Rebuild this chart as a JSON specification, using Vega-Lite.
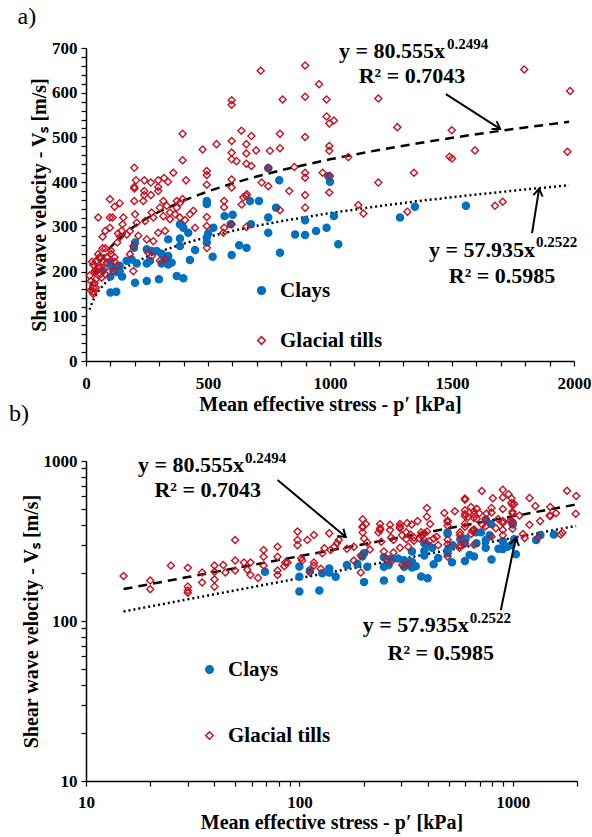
{
  "$schema": "https://vega.github.io/schema/vega-lite/v6.json",
  "background": "white",
  "padding": {"left": 9, "top": 4, "right": 0, "bottom": 2},
  "spacing": -12,
  "config": {
    "view": {"stroke": null},
    "font": "Liberation Serif",
    "axis": {
      "domainColor": "black", "domainWidth": 1.5, "tickColor": "black", "tickWidth": 1.2, "tickSize": 5,
      "labelFont": "Liberation Serif", "labelFontWeight": "bold", "labelFontSize": 17, "labelColor": "black",
      "titleFont": "Liberation Serif", "titleFontWeight": "bold", "titleFontSize": 20, "titleColor": "black",
      "grid": false, "labelOverlap": false, "labelFlush": false
    },
    "legend": {"labelFont": "Liberation Serif", "labelFontWeight": "bold", "labelFontSize": 21, "labelColor": "black"},
    "title": {"font": "Liberation Serif", "fontSize": 24, "fontWeight": "normal", "anchor": "start", "frame": "bounds", "color": "black"}
  },
  "datasets": {
    "pts": [
      {"type":"Clays","p":69,"vs":203},{"type":"Clays","p":100,"vs":219},{"type":"Clays","p":100,"vs":189},{"type":"Clays","p":100,"vs":153},{"type":"Clays","p":124,"vs":155},{"type":"Clays","p":128,"vs":199},{"type":"Clays","p":138,"vs":213},{"type":"Clays","p":148,"vs":189},{"type":"Clays","p":138,"vs":201},{"type":"Clays","p":112,"vs":207},
      {"type":"Clays","p":167,"vs":224},{"type":"Clays","p":187,"vs":227},{"type":"Clays","p":197,"vs":253},{"type":"Clays","p":201,"vs":265},{"type":"Clays","p":201,"vs":175},{"type":"Clays","p":208,"vs":218},{"type":"Clays","p":249,"vs":250},{"type":"Clays","p":249,"vs":218},{"type":"Clays","p":249,"vs":179},{"type":"Clays","p":262,"vs":224},{"type":"Clays","p":269,"vs":246},{"type":"Clays","p":290,"vs":246},{"type":"Clays","p":299,"vs":183},{"type":"Clays","p":310,"vs":240},{"type":"Clays","p":310,"vs":218},{"type":"Clays","p":324,"vs":231},{"type":"Clays","p":337,"vs":235},{"type":"Clays","p":337,"vs":272},{"type":"Clays","p":337,"vs":216},{"type":"Clays","p":351,"vs":220},{"type":"Clays","p":372,"vs":190},{"type":"Clays","p":385,"vs":306},{"type":"Clays","p":385,"vs":274},{"type":"Clays","p":385,"vs":257},{"type":"Clays","p":399,"vs":298},{"type":"Clays","p":399,"vs":185},{"type":"Clays","p":419,"vs":287},{"type":"Clays","p":426,"vs":226},{"type":"Clays","p":447,"vs":248},{"type":"Clays","p":495,"vs":358},{"type":"Clays","p":495,"vs":351},{"type":"Clays","p":495,"vs":276},{"type":"Clays","p":495,"vs":265},{"type":"Clays","p":501,"vs":285},{"type":"Clays","p":519,"vs":233},{"type":"Clays","p":522,"vs":298},{"type":"Clays","p":568,"vs":324},{"type":"Clays","p":593,"vs":306},{"type":"Clays","p":597,"vs":237},{"type":"Clays","p":601,"vs":327},{"type":"Clays","p":628,"vs":259},{"type":"Clays","p":658,"vs":253},{"type":"Clays","p":672,"vs":358},{"type":"Clays","p":676,"vs":306},{"type":"Clays","p":709,"vs":358},{"type":"Clays","p":747,"vs":431},{"type":"Clays","p":747,"vs":321},{"type":"Clays","p":747,"vs":287},{"type":"Clays","p":779,"vs":343},{"type":"Clays","p":792,"vs":404},{"type":"Clays","p":795,"vs":242},{"type":"Clays","p":857,"vs":283},{"type":"Clays","p":898,"vs":315},{"type":"Clays","p":898,"vs":282},{"type":"Clays","p":943,"vs":291},{"type":"Clays","p":986,"vs":298},{"type":"Clays","p":993,"vs":414},{"type":"Clays","p":1000,"vs":401},{"type":"Clays","p":1016,"vs":324},{"type":"Clays","p":1034,"vs":261},{"type":"Clays","p":1287,"vs":321},{"type":"Clays","p":1348,"vs":345},{"type":"Clays","p":1557,"vs":347},
      {"type":"Glacial tills","p":15,"vs":191},{"type":"Glacial tills","p":20,"vs":179},{"type":"Glacial tills","p":20,"vs":158},{"type":"Glacial tills","p":25,"vs":222},{"type":"Glacial tills","p":30,"vs":215},{"type":"Glacial tills","p":30,"vs":164},{"type":"Glacial tills","p":30,"vs":155},{"type":"Glacial tills","p":30,"vs":150},{"type":"Glacial tills","p":35,"vs":201},{"type":"Glacial tills","p":35,"vs":174},{"type":"Glacial tills","p":40,"vs":222},{"type":"Glacial tills","p":40,"vs":203},{"type":"Glacial tills","p":40,"vs":182},{"type":"Glacial tills","p":40,"vs":164},{"type":"Glacial tills","p":44,"vs":224},{"type":"Glacial tills","p":45,"vs":201},{"type":"Glacial tills","p":50,"vs":321},{"type":"Glacial tills","p":50,"vs":239},{"type":"Glacial tills","p":50,"vs":207},{"type":"Glacial tills","p":55,"vs":232},{"type":"Glacial tills","p":57,"vs":209},{"type":"Glacial tills","p":59,"vs":232},{"type":"Glacial tills","p":59,"vs":194},{"type":"Glacial tills","p":64,"vs":186},{"type":"Glacial tills","p":68,"vs":278},{"type":"Glacial tills","p":68,"vs":252},{"type":"Glacial tills","p":68,"vs":222},{"type":"Glacial tills","p":79,"vs":291},{"type":"Glacial tills","p":79,"vs":252},{"type":"Glacial tills","p":79,"vs":207},{"type":"Glacial tills","p":79,"vs":194},{"type":"Glacial tills","p":85,"vs":220},{"type":"Glacial tills","p":86,"vs":232},{"type":"Glacial tills","p":88,"vs":232},{"type":"Glacial tills","p":98,"vs":362},{"type":"Glacial tills","p":98,"vs":321},{"type":"Glacial tills","p":98,"vs":298},{"type":"Glacial tills","p":102,"vs":247},{"type":"Glacial tills","p":103,"vs":239},{"type":"Glacial tills","p":109,"vs":321},{"type":"Glacial tills","p":112,"vs":201},{"type":"Glacial tills","p":117,"vs":345},{"type":"Glacial tills","p":117,"vs":232},{"type":"Glacial tills","p":117,"vs":222},{"type":"Glacial tills","p":126,"vs":212},{"type":"Glacial tills","p":128,"vs":265},{"type":"Glacial tills","p":131,"vs":285},{"type":"Glacial tills","p":138,"vs":353},{"type":"Glacial tills","p":140,"vs":278},{"type":"Glacial tills","p":146,"vs":291},
      {"type":"Glacial tills","p":150,"vs":306},{"type":"Glacial tills","p":153,"vs":321},{"type":"Glacial tills","p":167,"vs":283},{"type":"Glacial tills","p":180,"vs":291},{"type":"Glacial tills","p":180,"vs":239},{"type":"Glacial tills","p":194,"vs":257},{"type":"Glacial tills","p":194,"vs":201},{"type":"Glacial tills","p":198,"vs":432},{"type":"Glacial tills","p":198,"vs":389},{"type":"Glacial tills","p":198,"vs":386},{"type":"Glacial tills","p":198,"vs":358},{"type":"Glacial tills","p":201,"vs":328},{"type":"Glacial tills","p":205,"vs":404},{"type":"Glacial tills","p":208,"vs":309},{"type":"Glacial tills","p":214,"vs":280},{"type":"Glacial tills","p":235,"vs":358},{"type":"Glacial tills","p":239,"vs":404},{"type":"Glacial tills","p":239,"vs":380},{"type":"Glacial tills","p":239,"vs":371},{"type":"Glacial tills","p":242,"vs":313},{"type":"Glacial tills","p":249,"vs":272},{"type":"Glacial tills","p":255,"vs":242},{"type":"Glacial tills","p":266,"vs":399},{"type":"Glacial tills","p":266,"vs":371},{"type":"Glacial tills","p":269,"vs":332},{"type":"Glacial tills","p":269,"vs":235},{"type":"Glacial tills","p":276,"vs":321},{"type":"Glacial tills","p":276,"vs":268},{"type":"Glacial tills","p":296,"vs":404},{"type":"Glacial tills","p":296,"vs":389},{"type":"Glacial tills","p":296,"vs":380},{"type":"Glacial tills","p":296,"vs":287},{"type":"Glacial tills","p":303,"vs":343},{"type":"Glacial tills","p":303,"vs":224},{"type":"Glacial tills","p":317,"vs":358},{"type":"Glacial tills","p":317,"vs":324},{"type":"Glacial tills","p":320,"vs":409},{"type":"Glacial tills","p":324,"vs":291},{"type":"Glacial tills","p":324,"vs":228},{"type":"Glacial tills","p":331,"vs":347},{"type":"Glacial tills","p":336,"vs":401},{"type":"Glacial tills","p":344,"vs":332},{"type":"Glacial tills","p":344,"vs":317},{"type":"Glacial tills","p":358,"vs":421},{"type":"Glacial tills","p":365,"vs":328},{"type":"Glacial tills","p":372,"vs":358},{"type":"Glacial tills","p":372,"vs":343},{"type":"Glacial tills","p":385,"vs":354},{"type":"Glacial tills","p":385,"vs":321},{"type":"Glacial tills","p":396,"vs":508},{"type":"Glacial tills","p":396,"vs":449},{"type":"Glacial tills","p":396,"vs":362},{"type":"Glacial tills","p":406,"vs":315},{"type":"Glacial tills","p":410,"vs":404},{"type":"Glacial tills","p":426,"vs":328},{"type":"Glacial tills","p":440,"vs":336},{"type":"Glacial tills","p":447,"vs":298},{"type":"Glacial tills","p":478,"vs":473},{"type":"Glacial tills","p":495,"vs":425},{"type":"Glacial tills","p":495,"vs":416},{"type":"Glacial tills","p":495,"vs":394},{"type":"Glacial tills","p":495,"vs":322},{"type":"Glacial tills","p":495,"vs":302},{"type":"Glacial tills","p":495,"vs":253},{"type":"Glacial tills","p":535,"vs":485},{"type":"Glacial tills","p":563,"vs":287},{"type":"Glacial tills","p":566,"vs":358},{"type":"Glacial tills","p":566,"vs":344},{"type":"Glacial tills","p":566,"vs":298},{"type":"Glacial tills","p":597,"vs":583},{"type":"Glacial tills","p":597,"vs":573},{"type":"Glacial tills","p":597,"vs":492},{"type":"Glacial tills","p":597,"vs":466},{"type":"Glacial tills","p":597,"vs":451},{"type":"Glacial tills","p":597,"vs":406},{"type":"Glacial tills","p":597,"vs":388},{"type":"Glacial tills","p":597,"vs":306},{"type":"Glacial tills","p":617,"vs":447},{"type":"Glacial tills","p":637,"vs":515},{"type":"Glacial tills","p":638,"vs":350},{"type":"Glacial tills","p":645,"vs":366},{"type":"Glacial tills","p":656,"vs":369},{"type":"Glacial tills","p":657,"vs":485},{"type":"Glacial tills","p":657,"vs":464},{"type":"Glacial tills","p":657,"vs":441},{"type":"Glacial tills","p":658,"vs":300},{"type":"Glacial tills","p":659,"vs":373},{"type":"Glacial tills","p":678,"vs":503},{"type":"Glacial tills","p":678,"vs":436},{"type":"Glacial tills","p":697,"vs":471},{"type":"Glacial tills","p":716,"vs":649},{"type":"Glacial tills","p":720,"vs":399},{"type":"Glacial tills","p":747,"vs":432},{"type":"Glacial tills","p":747,"vs":391},{"type":"Glacial tills","p":754,"vs":470},{"type":"Glacial tills","p":795,"vs":508},{"type":"Glacial tills","p":795,"vs":476},{"type":"Glacial tills","p":795,"vs":337},{"type":"Glacial tills","p":806,"vs":585},{"type":"Glacial tills","p":833,"vs":380},{"type":"Glacial tills","p":854,"vs":434},{"type":"Glacial tills","p":898,"vs":661},{"type":"Glacial tills","p":898,"vs":591},{"type":"Glacial tills","p":898,"vs":501},{"type":"Glacial tills","p":898,"vs":421},{"type":"Glacial tills","p":898,"vs":410},{"type":"Glacial tills","p":898,"vs":371},{"type":"Glacial tills","p":898,"vs":343},{"type":"Glacial tills","p":955,"vs":619},{"type":"Glacial tills","p":970,"vs":421},{"type":"Glacial tills","p":986,"vs":585},{"type":"Glacial tills","p":986,"vs":547},{"type":"Glacial tills","p":997,"vs":531},{"type":"Glacial tills","p":997,"vs":481},{"type":"Glacial tills","p":997,"vs":470},{"type":"Glacial tills","p":997,"vs":377},{"type":"Glacial tills","p":1000,"vs":414},{"type":"Glacial tills","p":1016,"vs":538},{"type":"Glacial tills","p":1075,"vs":456},{"type":"Glacial tills","p":1116,"vs":349},{"type":"Glacial tills","p":1137,"vs":330},{"type":"Glacial tills","p":1198,"vs":587},{"type":"Glacial tills","p":1198,"vs":399},{"type":"Glacial tills","p":1276,"vs":523},{"type":"Glacial tills","p":1317,"vs":334},{"type":"Glacial tills","p":1344,"vs":421},{"type":"Glacial tills","p":1490,"vs":457},{"type":"Glacial tills","p":1500,"vs":453},{"type":"Glacial tills","p":1499,"vs":516},{"type":"Glacial tills","p":1594,"vs":471},{"type":"Glacial tills","p":1676,"vs":347},{"type":"Glacial tills","p":1708,"vs":356},{"type":"Glacial tills","p":1796,"vs":652},{"type":"Glacial tills","p":1973,"vs":468},{"type":"Glacial tills","p":1984,"vs":604}
    ],
    "fits": [
      {"fit":"Glacial tills","p":15,"vs":158.27},{"fit":"Glacial tills","p":20,"vs":170.05},{"fit":"Glacial tills","p":30,"vs":188.14},{"fit":"Glacial tills","p":40,"vs":202.14},{"fit":"Glacial tills","p":50,"vs":213.71},{"fit":"Glacial tills","p":60,"vs":223.65},{"fit":"Glacial tills","p":80,"vs":240.28},{"fit":"Glacial tills","p":100,"vs":254.03},{"fit":"Glacial tills","p":130,"vs":271.21},{"fit":"Glacial tills","p":160,"vs":285.63},{"fit":"Glacial tills","p":200,"vs":301.97},{"fit":"Glacial tills","p":250,"vs":319.25},{"fit":"Glacial tills","p":300,"vs":334.10},{"fit":"Glacial tills","p":400,"vs":358.96},{"fit":"Glacial tills","p":500,"vs":379.50},{"fit":"Glacial tills","p":600,"vs":397.15},{"fit":"Glacial tills","p":700,"vs":412.72},{"fit":"Glacial tills","p":800,"vs":426.70},{"fit":"Glacial tills","p":1000,"vs":451.12},{"fit":"Glacial tills","p":1200,"vs":472.10},{"fit":"Glacial tills","p":1400,"vs":490.60},{"fit":"Glacial tills","p":1600,"vs":507.22},{"fit":"Glacial tills","p":1800,"vs":522.34},{"fit":"Glacial tills","p":1980,"vs":534.91},
      {"fit":"Clays","p":15,"vs":114.70},{"fit":"Clays","p":20,"vs":123.33},{"fit":"Clays","p":30,"vs":136.61},{"fit":"Clays","p":40,"vs":146.89},{"fit":"Clays","p":50,"vs":155.39},{"fit":"Clays","p":60,"vs":162.70},{"fit":"Clays","p":80,"vs":174.94},{"fit":"Clays","p":100,"vs":185.07},{"fit":"Clays","p":130,"vs":197.74},{"fit":"Clays","p":160,"vs":208.36},{"fit":"Clays","p":200,"vs":220.43},{"fit":"Clays","p":250,"vs":233.18},{"fit":"Clays","p":300,"vs":244.16},{"fit":"Clays","p":400,"vs":262.53},{"fit":"Clays","p":500,"vs":277.73},{"fit":"Clays","p":600,"vs":290.79},{"fit":"Clays","p":700,"vs":302.32},{"fit":"Clays","p":800,"vs":312.68},{"fit":"Clays","p":1000,"vs":330.78},{"fit":"Clays","p":1200,"vs":346.34},{"fit":"Clays","p":1400,"vs":360.07},{"fit":"Clays","p":1600,"vs":372.40},{"fit":"Clays","p":1800,"vs":383.63},{"fit":"Clays","p":1980,"vs":392.96}
    ],
    "arrows": [
      {"panel":"a","id":1,"p":1697,"vs":519,"p2":1475,"vs2":597},
      {"panel":"a","id":2,"p":1857,"vs":385,"p2":1828,"vs2":286},
      {"panel":"b","id":1,"p":165,"vs":335,"p2":79,"vs2":761},
      {"panel":"b","id":2,"p":1033,"vs":330,"p2":879,"vs2":117}
    ],
    "eqmain": [
      {"panel":"a","text":"y = 80.555x","p":1471,"vs":693},
      {"panel":"a","text":"y = 57.935x","p":1840,"vs":248},
      {"panel":"b","text":"y = 80.555x","p":55,"vs":944},
      {"panel":"b","text":"y = 57.935x","p":622,"vs":94.4}
    ],
    "eqsup": [
      {"panel":"a","text":"0.2494","p":1480,"vs":709},
      {"panel":"a","text":"0.2522","p":1844,"vs":266},
      {"panel":"b","text":"0.2494","p":55.6,"vs":1044},
      {"panel":"b","text":"0.2522","p":629,"vs":104}
    ],
    "eqr2": [
      {"panel":"a","text":"R² = 0.7043","p":1336,"vs":638},
      {"panel":"a","text":"R² = 0.5985","p":1705,"vs":190},
      {"panel":"b","text":"R² = 0.7043","p":37.2,"vs":659},
      {"panel":"b","text":"R² = 0.5985","p":460,"vs":63.1}
    ]
  },
  "resolve": {
    "scale": {"x": "independent", "y": "independent", "fill": "independent", "stroke": "independent", "shape": "independent", "strokeDash": "independent"},
    "legend": {"fill": "independent", "stroke": "independent", "shape": "independent"}
  },
  "vconcat": [
    {
      "title": {"text": "a)", "offset": 8, "dx": -12},
      "width": 488,
      "height": 313,
      "encoding": {
        "x": {"field": "p", "type": "quantitative", "scale": {"domain": [0, 2000], "nice": false},
          "axis": {"title": "Mean effective stress - p′ [kPa]", "values": [0,100,200,300,400,500,600,700,800,900,1000,1100,1200,1300,1400,1500,1600,1700,1800,1900,2000], "labelExpr": "datum.value % 500 === 0 ? datum.label : ''", "format": "d", "labelPadding": 9, "titlePadding": 3}},
        "y": {"field": "vs", "type": "quantitative", "scale": {"domain": [0, 700], "nice": false},
          "axis": {"title": "Shear wave velocity - Vₛ [m/s]", "values": [0,20,40,60,80,100,120,140,160,180,200,220,240,260,280,300,320,340,360,380,400,420,440,460,480,500,520,540,560,580,600,620,640,660,680,700], "labelExpr": "datum.value % 100 === 0 ? datum.label : ''", "format": "d", "labelPadding": 4, "titlePadding": 2}}
      },
      "layer": [
        {
          "data": {"name": "fits"},
          "mark": {"type": "line", "color": "black", "strokeWidth": 2.5},
          "encoding": {"strokeDash": {"field": "fit", "type": "nominal", "scale": {"domain": ["Glacial tills", "Clays"], "range": [[9, 6], [2, 3]]}, "legend": null}}
        },
        {
          "data": {"name": "pts"},
          "mark": {"type": "point", "size": 50, "strokeWidth": 1.4, "opacity": 1},
          "encoding": {
            "shape": {"field": "type", "type": "nominal", "scale": {"domain": ["Clays", "Glacial tills"], "range": ["circle", "diamond"]},
              "legend": {"title": null, "orient": "none", "legendX": 165, "legendY": 232, "rowPadding": 28, "symbolSize": 60, "symbolStrokeWidth": 1.5, "labelOffset": 8}},
            "fill": {"field": "type", "type": "nominal", "scale": {"domain": ["Clays", "Glacial tills"], "range": ["#0070C0", "transparent"]},
              "legend": {"title": null, "orient": "none", "legendX": 165, "legendY": 232, "rowPadding": 28, "symbolSize": 60, "symbolStrokeWidth": 1.5, "labelOffset": 8}},
            "stroke": {"field": "type", "type": "nominal", "scale": {"domain": ["Clays", "Glacial tills"], "range": ["#0070C0", "#C8101E"]},
              "legend": {"title": null, "orient": "none", "legendX": 165, "legendY": 232, "rowPadding": 28, "symbolSize": 60, "symbolStrokeWidth": 1.5, "labelOffset": 8}}
          }
        },
        {
          "data": {"name": "arrows"},
          "transform": [{"filter": "datum.panel === 'a'"}],
          "mark": {"type": "rule", "color": "black", "strokeWidth": 2},
          "encoding": {"x2": {"field": "p2"}, "y2": {"field": "vs2"}}
        },
        {
          "data": {"name": "arrows"},
          "transform": [{"filter": "datum.panel === 'a' && datum.id === 1"}],
          "mark": {"type": "point", "shape": "M -0.6 0.9 L 0 0 L 0.6 0.9", "size": 250, "filled": false, "stroke": "black", "strokeWidth": 2, "angle": 123, "opacity": 1},
          "encoding": {}
        },
        {
          "data": {"name": "arrows"},
          "transform": [{"filter": "datum.panel === 'a' && datum.id === 2"}],
          "mark": {"type": "point", "shape": "M -0.6 0.9 L 0 0 L 0.6 0.9", "size": 250, "filled": false, "stroke": "black", "strokeWidth": 2, "angle": 9, "opacity": 1},
          "encoding": {}
        },
        {
          "data": {"name": "eqmain"},
          "transform": [{"filter": "datum.panel === 'a'"}],
          "mark": {"type": "text", "align": "right", "baseline": "middle", "font": "Liberation Serif", "fontSize": 22, "fontWeight": "bold", "color": "black"},
          "encoding": {"text": {"field": "text"}}
        },
        {
          "data": {"name": "eqsup"},
          "transform": [{"filter": "datum.panel === 'a'"}],
          "mark": {"type": "text", "align": "left", "baseline": "middle", "font": "Liberation Serif", "fontSize": 15, "fontWeight": "bold", "color": "black"},
          "encoding": {"text": {"field": "text"}}
        },
        {
          "data": {"name": "eqr2"},
          "transform": [{"filter": "datum.panel === 'a'"}],
          "mark": {"type": "text", "align": "center", "baseline": "middle", "font": "Liberation Serif", "fontSize": 22, "fontWeight": "bold", "color": "black"},
          "encoding": {"text": {"field": "text"}}
        }
      ]
    },
    {
      "title": {"text": "b)", "offset": 25, "dx": -12},
      "width": 491,
      "height": 320,
      "encoding": {
        "x": {"field": "p", "type": "quantitative", "scale": {"type": "log", "domain": [10, 2000], "nice": false},
          "axis": {"title": "Mean effective stress - p′ [kPa]", "values": [10,20,30,40,50,60,70,80,90,100,200,300,400,500,600,700,800,900,1000,2000], "labelExpr": "datum.value === 10 || datum.value === 100 || datum.value === 1000 ? datum.label : ''", "format": "d", "labelPadding": 8, "titlePadding": 2}},
        "y": {"field": "vs", "type": "quantitative", "scale": {"type": "log", "domain": [10, 1000], "nice": false},
          "axis": {"title": "Shear wave velocity - Vₛ [m/s]", "values": [10,20,30,40,50,60,70,80,90,100,200,300,400,500,600,700,800,900,1000], "labelExpr": "datum.value === 10 || datum.value === 100 || datum.value === 1000 ? datum.label : ''", "format": "d", "labelPadding": 4, "titlePadding": 2}}
      },
      "layer": [
        {
          "data": {"name": "fits"},
          "mark": {"type": "line", "color": "black", "strokeWidth": 2.5},
          "encoding": {"strokeDash": {"field": "fit", "type": "nominal", "scale": {"domain": ["Glacial tills", "Clays"], "range": [[9, 6], [2, 3]]}, "legend": null}}
        },
        {
          "data": {"name": "pts"},
          "mark": {"type": "point", "size": 50, "strokeWidth": 1.4, "opacity": 1},
          "encoding": {
            "shape": {"field": "type", "type": "nominal", "scale": {"domain": ["Clays", "Glacial tills"], "range": ["circle", "diamond"]},
              "legend": {"title": null, "orient": "none", "legendX": 113, "legendY": 198, "rowPadding": 44, "symbolSize": 55, "symbolStrokeWidth": 1.5, "labelOffset": 8}},
            "fill": {"field": "type", "type": "nominal", "scale": {"domain": ["Clays", "Glacial tills"], "range": ["#0070C0", "transparent"]},
              "legend": {"title": null, "orient": "none", "legendX": 113, "legendY": 198, "rowPadding": 44, "symbolSize": 55, "symbolStrokeWidth": 1.5, "labelOffset": 8}},
            "stroke": {"field": "type", "type": "nominal", "scale": {"domain": ["Clays", "Glacial tills"], "range": ["#0070C0", "#C8101E"]},
              "legend": {"title": null, "orient": "none", "legendX": 113, "legendY": 198, "rowPadding": 44, "symbolSize": 55, "symbolStrokeWidth": 1.5, "labelOffset": 8}}
          }
        },
        {
          "data": {"name": "arrows"},
          "transform": [{"filter": "datum.panel === 'b'"}],
          "mark": {"type": "rule", "color": "black", "strokeWidth": 2},
          "encoding": {"x2": {"field": "p2"}, "y2": {"field": "vs2"}}
        },
        {
          "data": {"name": "arrows"},
          "transform": [{"filter": "datum.panel === 'b' && datum.id === 1"}],
          "mark": {"type": "point", "shape": "M -0.6 0.9 L 0 0 L 0.6 0.9", "size": 250, "filled": false, "stroke": "black", "strokeWidth": 2, "angle": 130, "opacity": 1},
          "encoding": {}
        },
        {
          "data": {"name": "arrows"},
          "transform": [{"filter": "datum.panel === 'b' && datum.id === 2"}],
          "mark": {"type": "point", "shape": "M -0.6 0.9 L 0 0 L 0.6 0.9", "size": 250, "filled": false, "stroke": "black", "strokeWidth": 2, "angle": 12, "opacity": 1},
          "encoding": {}
        },
        {
          "data": {"name": "eqmain"},
          "transform": [{"filter": "datum.panel === 'b'"}],
          "mark": {"type": "text", "align": "right", "baseline": "middle", "font": "Liberation Serif", "fontSize": 22, "fontWeight": "bold", "color": "black"},
          "encoding": {"text": {"field": "text"}}
        },
        {
          "data": {"name": "eqsup"},
          "transform": [{"filter": "datum.panel === 'b'"}],
          "mark": {"type": "text", "align": "left", "baseline": "middle", "font": "Liberation Serif", "fontSize": 15, "fontWeight": "bold", "color": "black"},
          "encoding": {"text": {"field": "text"}}
        },
        {
          "data": {"name": "eqr2"},
          "transform": [{"filter": "datum.panel === 'b'"}],
          "mark": {"type": "text", "align": "center", "baseline": "middle", "font": "Liberation Serif", "fontSize": 22, "fontWeight": "bold", "color": "black"},
          "encoding": {"text": {"field": "text"}}
        }
      ]
    }
  ]
}
